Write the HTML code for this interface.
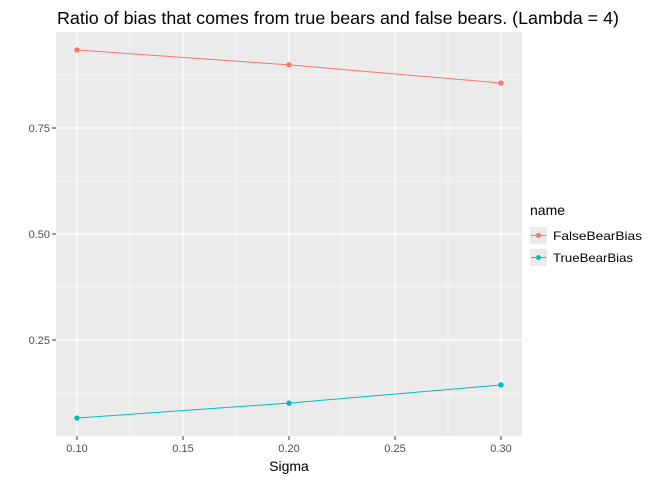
<!DOCTYPE html>
<html><head><meta charset="utf-8"><style>
body{margin:0;background:#fff;font-family:"Liberation Sans",Arial,sans-serif;}
</style></head><body>
<svg id="chart" width="672" height="480" xmlns="http://www.w3.org/2000/svg">
<text x="57" y="24" font-size="17.5" textLength="562" lengthAdjust="spacingAndGlyphs" fill="#000">Ratio of bias that comes from true bears and false bears. (Lambda = 4)</text>
<rect x="56" y="32" width="466" height="404" fill="#ebebeb"/>
<g id="grid"></g>
<g id="marks"></g>
<g id="axes"></g>
<text x="289" y="471" font-size="14" text-anchor="middle" fill="#000">Sigma</text>
<g>
<text x="530" y="215" font-size="14" fill="#000">name</text>
<g>
<rect x="530" y="227" width="17" height="17" fill="#ebebeb"/>
<line x1="531" y1="235.5" x2="546" y2="235.5" stroke="#F8766D" stroke-width="1"/>
<circle cx="538.5" cy="235.5" r="2.5" fill="#F8766D"/>
<text x="553" y="240" font-size="12" textLength="89" lengthAdjust="spacingAndGlyphs" fill="#000">FalseBearBias</text></g>
<g>
<rect x="530" y="249" width="17" height="17" fill="#ebebeb"/>
<line x1="531" y1="257.5" x2="546" y2="257.5" stroke="#00BFC4" stroke-width="1"/>
<circle cx="538.5" cy="257.5" r="2.5" fill="#00BFC4"/>
<text x="553" y="262" font-size="12" textLength="80" lengthAdjust="spacingAndGlyphs" fill="#000">TrueBearBias</text></g>
</g>
</svg>
<script>
const sigma=[0.1,0.2,0.3];
const falseBearBias=[0.934,0.899,0.856];
const trueBearBias=[0.066,0.101,0.144];
const xTicks=[0.1,0.15,0.2,0.25,0.3];
const xTickLabels=["0.10","0.15","0.20","0.25","0.30"];
const yTicks=[0.25,0.5,0.75];
const yTickLabels=["0.25","0.50","0.75"];
const yMinor=[0.125,0.375,0.625,0.875];
const xMinor=[0.125,0.175,0.225,0.275];
const NS="http://www.w3.org/2000/svg";
const x=v=>77+(v-0.1)*2120;
const y=v=>234-(v-0.5)*424;
function mk(t,a,p){const e=document.createElementNS(NS,t);for(const k in a)e.setAttribute(k,a[k]);p.appendChild(e);return e;}
const grid=document.getElementById('grid'),marks=document.getElementById('marks'),axes=document.getElementById('axes');
yMinor.forEach(v=>{const l=mk('line',{x1:56,x2:522,y1:y(v),y2:y(v),stroke:'#fff','stroke-width':0.6},grid);

});
yTicks.forEach((v,i)=>{const l=mk('line',{x1:56,x2:522,y1:y(v),y2:y(v),stroke:'#fff','stroke-width':1.2},grid);


const tk=mk('line',{x1:52,x2:56,y1:y(v),y2:y(v),stroke:'#333','stroke-width':1},axes);


const t=mk('text',{x:50,y:y(v)+4,'font-size':11,'text-anchor':'end',fill:'#4d4d4d'},axes);t.textContent=yTickLabels[i];

});
xTicks.forEach((v,i)=>{const l=mk('line',{x1:x(v),x2:x(v),y1:32,y2:436,stroke:'#fff','stroke-width':1.2},grid);


const tk=mk('line',{x1:x(v),x2:x(v),y1:436,y2:440,stroke:'#333','stroke-width':1},axes);


const t=mk('text',{x:x(v),y:452,'font-size':11,'text-anchor':'middle',fill:'#4d4d4d'},axes);t.textContent=xTickLabels[i];

});
xMinor.forEach(v=>{const l=mk('line',{x1:x(v),x2:x(v),y1:32,y2:436,stroke:'#fff','stroke-width':0.6},grid);

});
[[falseBearBias,'#F8766D','falsebearbias'],[trueBearBias,'#00BFC4','truebearbias']].forEach(([d,c,n])=>{
const p=mk('polyline',{points:sigma.map((s,i)=>x(s)+','+y(d[i])).join(' '),fill:'none',stroke:c,'stroke-width':1},marks);


sigma.forEach((s,i)=>{const ci=mk('circle',{cx:x(s),cy:y(d[i]),r:2.7,fill:c},marks);

});});
</script>
</body></html>
